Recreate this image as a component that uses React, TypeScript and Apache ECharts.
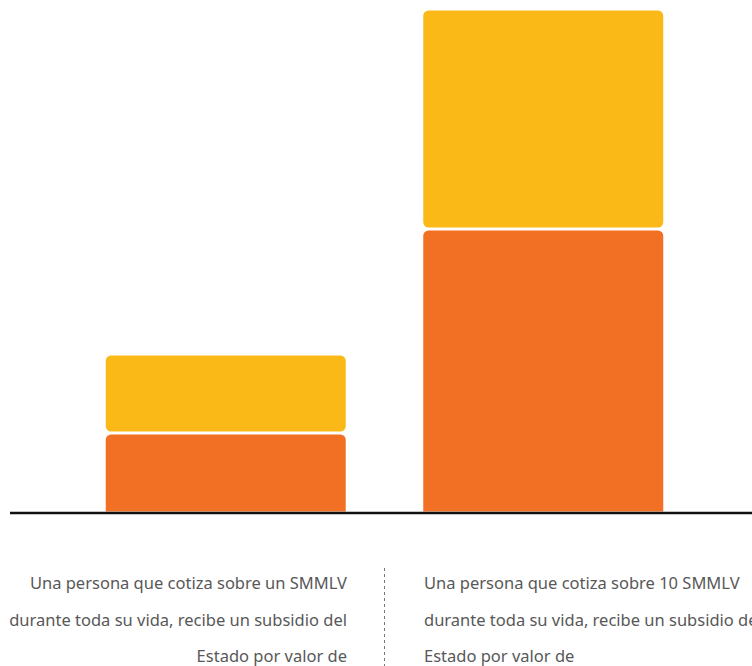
import React, { useEffect, useRef } from "react";
import * as echarts from "echarts";

const categories = ["SMMLV x1", "SMMLV x10"];
const orangeValues = [80, 284];
const yellowValues = [79, 220];
const leftLines = [
  "Una persona que cotiza sobre un SMMLV",
  "durante toda su vida, recibe un subsidio del",
  "Estado por valor de",
];
const rightLines = [
  "Una persona que cotiza sobre 10 SMMLV",
  "durante toda su vida, recibe un subsidio del",
  "Estado por valor de",
];

const FONT = "'Noto Sans', Roboto, sans-serif";
const TEXT_COLOR = "#585858";

export default function App() {
  const ref = useRef<HTMLDivElement>(null);
  useEffect(() => {
    if (!ref.current) return;
    const chart = echarts.init(ref.current, undefined, { renderer: "svg" });
    const lineY = [582.5, 619, 655.5];
    const texts: any[] = [];
    leftLines.forEach((t, i) => {
      texts.push({
        type: "text",
        x: 347,
        y: lineY[i],
        style: { text: t, fill: TEXT_COLOR, font: `16.5px ${FONT}`, align: "right", verticalAlign: "middle" },
      });
    });
    rightLines.forEach((t, i) => {
      texts.push({
        type: "text",
        x: 424,
        y: lineY[i],
        style: { text: t, fill: TEXT_COLOR, font: `16.5px ${FONT}`, align: "left", verticalAlign: "middle" },
      });
    });
    chart.setOption({
      animation: false,
      backgroundColor: "#ffffff",
      grid: { left: 67, right: 50, top: 9, bottom: 153 },
      xAxis: {
        type: "category",
        data: categories,
        axisLine: { show: false },
        axisTick: { show: false },
        axisLabel: { show: false },
      },
      yAxis: {
        type: "value",
        min: 0,
        max: 504,
        show: false,
        splitLine: { show: false },
      },
      series: [
        {
          type: "bar",
          stack: "total",
          data: orangeValues,
          barWidth: 243,
          itemStyle: { color: "#f27024", borderColor: "#ffffff", borderWidth: 1.5, borderRadius: [6, 6, 0, 0] },
        },
        {
          type: "bar",
          stack: "total",
          data: yellowValues,
          barWidth: 243,
          itemStyle: { color: "#fbb917", borderColor: "#ffffff", borderWidth: 1.5, borderRadius: 6 },
        },
      ],
      graphic: [
        {
          type: "line",
          shape: { x1: 10, y1: 513, x2: 752, y2: 513 },
          style: { stroke: "#111111", lineWidth: 2.5 },
          z: 10,
        },
        {
          type: "line",
          shape: { x1: 384.5, y1: 568, x2: 384.5, y2: 666 },
          style: { stroke: "#777777", lineWidth: 1, lineDash: [3, 3] },
        },
        ...texts,
      ],
    });
    return () => chart.dispose();
  }, []);
  return (
    <div
      ref={ref}
      style={{ position: "fixed", left: 0, top: 0, width: 752, height: 666, background: "#fff" }}
    />
  );
}
